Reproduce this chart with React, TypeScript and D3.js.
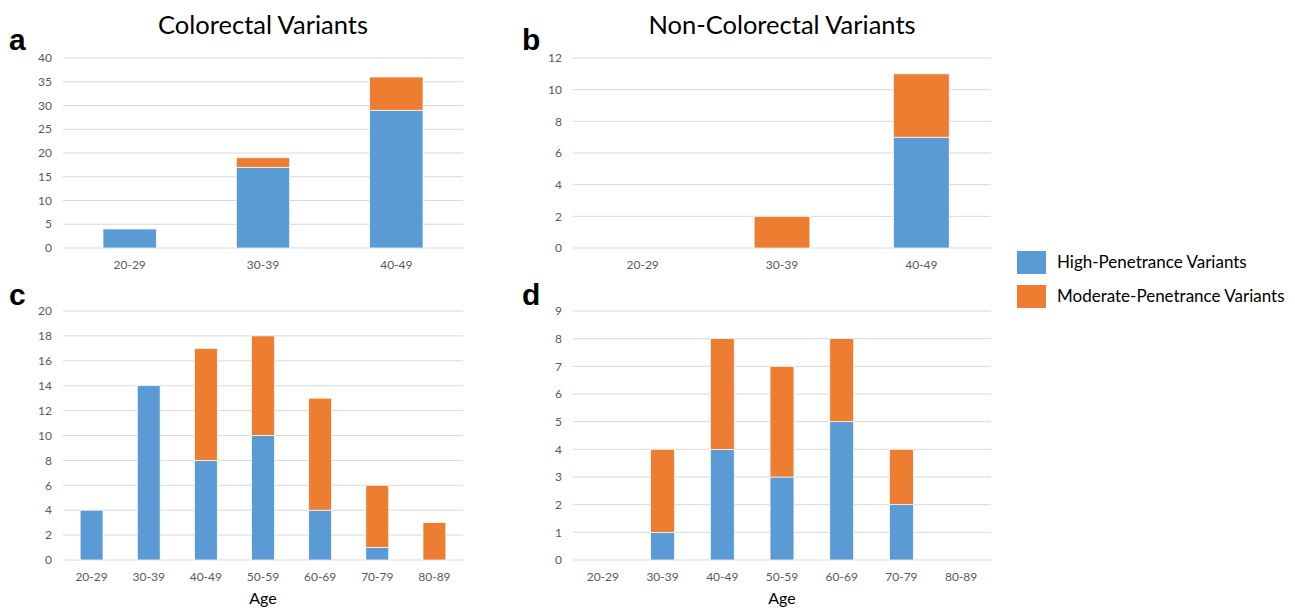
import * as d3 from 'd3';
import React from 'react';

const agesTop = ['20-29', '30-39', '40-49'];
const agesBottom = ['20-29', '30-39', '40-49', '50-59', '60-69', '70-79', '80-89'];

// panel a: colorectal, early onset
const aHigh = [4, 17, 29];
const aModerate = [0, 2, 7];
const aTicks = [0, 5, 10, 15, 20, 25, 30, 35, 40];

// panel b: non-colorectal, early onset
const bHigh = [0, 0, 7];
const bModerate = [0, 2, 4];
const bTicks = [0, 2, 4, 6, 8, 10, 12];

// panel c: colorectal, all ages
const cHigh = [4, 14, 8, 10, 4, 1, 0];
const cModerate = [0, 0, 9, 8, 9, 5, 3];
const cTicks = [0, 2, 4, 6, 8, 10, 12, 14, 16, 18, 20];

// panel d: non-colorectal, all ages
const dHigh = [0, 1, 4, 3, 5, 2, 0];
const dModerate = [0, 3, 4, 4, 3, 2, 0];
const dTicks = [0, 1, 2, 3, 4, 5, 6, 7, 8, 9];

const seriesNames = ['High-Penetrance Variants', 'Moderate-Penetrance Variants'];
const BLUE = '#5B9BD5';
const ORANGE = '#ED7D31';
const FONT = 'Lato, "Open Sans", sans-serif';

type PanelProps = {
  x0: number; x1: number; yTop: number; yBottom: number;
  cats: string[]; high: number[]; moderate: number[]; ticks: number[];
  letter: string; letterX: number; letterY: number;
  title?: string; xLabel?: string;
};

function Panel(p: PanelProps) {
  const x = d3.scaleBand().domain(p.cats).range([p.x0, p.x1]).padding(0);
  const y = d3.scaleLinear().domain([0, d3.max(p.ticks) as number]).range([p.yBottom, p.yTop]);
  const bw = x.bandwidth() * 0.4;
  const rows = p.cats.map((c, i) => ({ cat: c, high: p.high[i], moderate: p.moderate[i] }));
  const stack = d3.stack<any>().keys(['high', 'moderate'])(rows);
  const colors = [BLUE, ORANGE];
  return (
    <g>
      {p.ticks.map(t => (
        <g key={t}>
          <line x1={p.x0} x2={p.x1} y1={y(t)} y2={y(t)} stroke="#D9D9D9" strokeWidth={1} />
          <text x={p.x0 - 11} y={y(t)} dy="0.35em" textAnchor="end" fontSize={12} fill="#595959" fontFamily={FONT}>{t}</text>
        </g>
      ))}
      {stack.map((layer, li) => layer.map((d, i) => {
        const h = y(d[0]) - y(d[1]);
        if (h <= 0) return null;
        return (
          <rect key={li + '-' + i}
            x={(x(p.cats[i]) as number) + (x.bandwidth() - bw) / 2}
            y={y(d[1])} width={bw} height={h}
            fill={colors[li]} stroke="#fff" strokeWidth={0.7} />
        );
      }))}
      {p.cats.map(c => (
        <text key={c} x={(x(c) as number) + x.bandwidth() / 2} y={p.yBottom + 17} dy="0.35em"
          textAnchor="middle" fontSize={12} fill="#595959" fontFamily={FONT}>{c}</text>
      ))}
      {p.title && (
        <text x={(p.x0 + p.x1) / 2} y={34} textAnchor="middle" fontSize={25.5} fill="#000" fontFamily={FONT}>{p.title}</text>
      )}
      {p.xLabel && (
        <text x={(p.x0 + p.x1) / 2} y={604} textAnchor="middle" fontSize={16} fill="#000" fontFamily={FONT}>{p.xLabel}</text>
      )}
      <text x={p.letterX} y={p.letterY} fontSize={30} fontWeight="bold" fill="#000"
        fontFamily='"Liberation Sans", Arial, sans-serif'>{p.letter}</text>
    </g>
  );
}

export default function App() {
  return (
    <svg width={1295} height={611} style={{ position: 'absolute', left: 0, top: 0, background: '#fff' }}>
      <Panel x0={63} x1={463} yTop={58} yBottom={248} cats={agesTop} high={aHigh} moderate={aModerate}
        ticks={aTicks} letter="a" letterX={9} letterY={50} title="Colorectal Variants" />
      <Panel x0={573} x1={991} yTop={58} yBottom={248} cats={agesTop} high={bHigh} moderate={bModerate}
        ticks={bTicks} letter="b" letterX={522} letterY={50} title="Non-Colorectal Variants" />
      <Panel x0={63} x1={463} yTop={311} yBottom={560} cats={agesBottom} high={cHigh} moderate={cModerate}
        ticks={cTicks} letter="c" letterX={9} letterY={305} xLabel="Age" />
      <Panel x0={573} x1={991} yTop={311} yBottom={560} cats={agesBottom} high={dHigh} moderate={dModerate}
        ticks={dTicks} letter="d" letterX={522} letterY={305} xLabel="Age" />
      {seriesNames.map((n, i) => (
        <g key={n} transform={`translate(1017,${251 + i * 34})`}>
          <rect width={29} height={23} fill={i === 0 ? BLUE : ORANGE} />
          <text x={40} y={11.5} dy="0.35em" fontSize={17} fill="#000" fontFamily={FONT}>{n}</text>
        </g>
      ))}
    </svg>
  );
}
